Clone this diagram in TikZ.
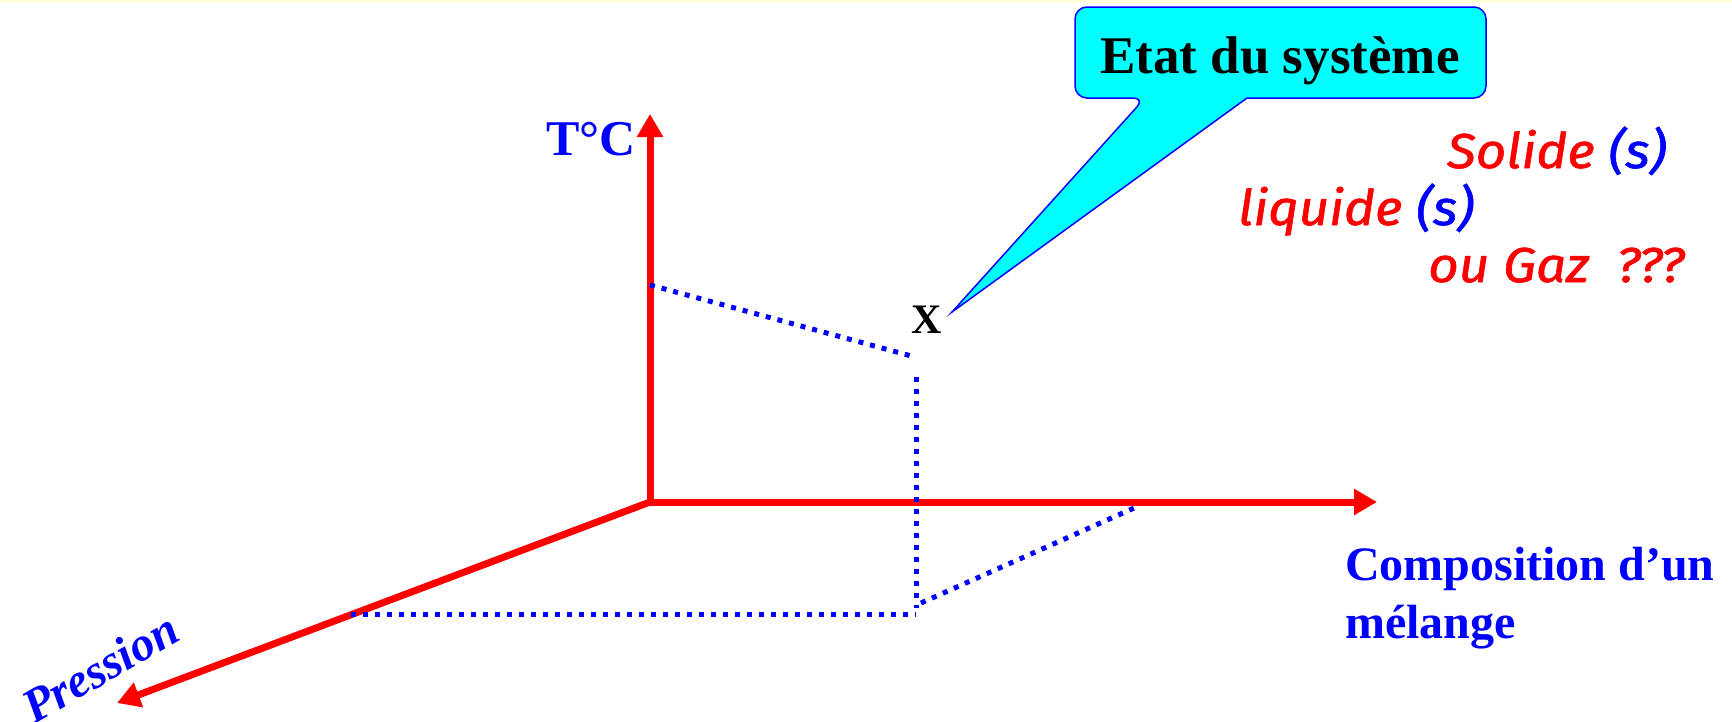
\documentclass[tikz,border=0pt]{standalone}
\usepackage{fontspec}
\setmainfont{Liberation Serif}
\newfontfamily\comic{Fira Sans}[ItalicFeatures={FakeBold=1.2}]
\usetikzlibrary{arrows.meta}
\definecolor{pureRed}{RGB}{255,0,0}
\definecolor{pureBlue}{RGB}{0,0,255}
\definecolor{pureCyan}{RGB}{0,255,255}
\definecolor{paleYel}{RGB}{255,255,220}
\tikzset{
  axisline/.style={draw=pureRed, line width=7pt, -{Triangle[length=23pt,width=25pt]}},
  dotline/.style={draw=pureBlue, line width=5pt, dash pattern=on 5pt off 7pt},
  calloutshape/.style={draw=pureBlue, fill=pureCyan, line width=1.5pt, line join=miter},
  bluelabel/.style={text=pureBlue, font=\fontsize{48}{58}\selectfont\bfseries, inner sep=0pt},
  comictxt/.style={font=\fontsize{49}{58}\selectfont\comic\itshape, inner sep=0pt, xscale=1.08},
}
\begin{document}
\begin{tikzpicture}[x=1pt,y=-1pt]
\useasboundingbox (0,0) rectangle (1732,721);
\fill[paleYel] (0,0) rectangle (1732,3);
% axes
\coordinate (O) at (650,502);
\coordinate (Ttip) at (650,114);
\coordinate (Ctip) at (1377,502);
\coordinate (Ptip) at (117,703);
\draw[axisline] (O) -- (Ttip);
\draw[axisline] (O) -- (Ctip);
\draw[axisline] (O) -- (Ptip);
% dotted projections
\coordinate (Ta) at (650,285);
\coordinate (Tb) at (915,357);
\coordinate (Va) at (916,377);
\coordinate (Vb) at (916,608);
\coordinate (Ha) at (351,614);
\coordinate (Hb) at (916,614);
\coordinate (Da) at (921,603);
\coordinate (Db) at (1134,508);
\draw[dotline] (Ta) -- (Tb);
\draw[dotline] (Va) -- (Vb);
\draw[dotline] (Ha) -- (Hb);
\draw[dotline] (Da) -- (Db);
% callout
\coordinate (tip) at (952,312);
\draw[calloutshape] (1145,98) -- (tip) -- (1247,98) [rounded corners=12pt] -- (1486,98) -- (1486,7) -- (1075,7) -- (1075,98) -- cycle;
\node[font=\fontsize{53}{60}\selectfont\bfseries, anchor=base, inner sep=0pt] (etat) at (1280,73) {Etat du système};
% labels
\node[bluelabel, font=\fontsize{50}{58}\selectfont\bfseries, anchor=base east] (tc) at (636,155) {T°C};
\node[font=\fontsize{42}{50}\selectfont\bfseries, anchor=base, inner sep=0pt] (x) at (927,333) {X};
\node[bluelabel, anchor=base west] (comp) at (1345,580) {Composition d’un};
\node[bluelabel, anchor=base west] (mel) at (1345,638) {mélange};
\node[bluelabel, font=\fontsize{48}{56}\selectfont\bfseries\itshape, rotate=30] (pres) at (100,668) {Pression};
\node[comictxt, anchor=base west] (sol) at (1447,168) {\textcolor{pureRed}{Solide} \textcolor{pureBlue}{(s)}};
\node[comictxt, anchor=base west] (liq) at (1238,225) {\textcolor{pureRed}{liquide} \textcolor{pureBlue}{(s)}};
\node[comictxt, anchor=base west, text=pureRed] (gaz) at (1428,282) {ou Gaz\ \ ???};
\end{tikzpicture}
\end{document}
